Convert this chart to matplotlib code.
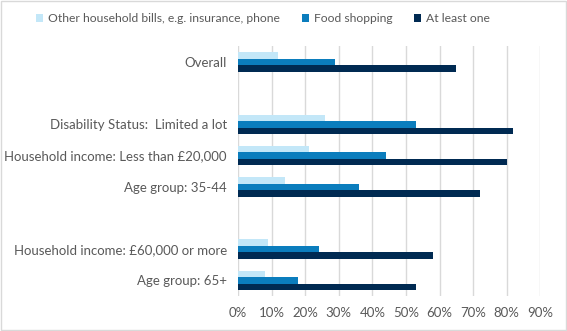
import numpy as np
import matplotlib
matplotlib.use("Agg")
import matplotlib.pyplot as plt
from matplotlib.patches import Patch, Rectangle
from matplotlib.ticker import PercentFormatter

plt.rcParams['font.family'] = ['Lato', 'DejaVu Sans']

# survey groups, top to bottom
categories = ['Overall',
              'Disability Status:  Limited a lot',
              'Household income: Less than £20,000',
              'Age group: 35-44',
              'Household income: £60,000 or more',
              'Age group: 65+']
series_names = ['Other household bills, e.g. insurance, phone',
                'Food shopping',
                'At least one']
other_bills = [12, 26, 21, 14, 9, 8]
food_shopping = [29, 53, 44, 36, 24, 18]
at_least_one = [65, 82, 80, 72, 58, 53]

colors = ['#C3E7F8', '#0B7DBD', '#002A52']
text_col = '#595959'

# rows, leaving blank rows between the blocks
rows = np.array([0, 2, 3, 4, 6, 7])
bar_h = 0.21

fig = plt.figure(figsize=(5.67, 3.31), dpi=100)
ax = fig.add_axes([238 / 567, 1 - 296 / 331, (540.3 - 238) / 567, (296 - 46.4) / 331])

for i, vals in enumerate([other_bills, food_shopping, at_least_one]):
    ax.barh(rows + (i - 1) * bar_h, vals, height=bar_h, color=colors[i],
            label=series_names[i], zorder=3)

ax.set_xlim(0, 90)
ax.set_ylim(7.5, -0.5)
ax.set_xticks(np.arange(0, 91, 10))
ax.xaxis.set_major_formatter(PercentFormatter(decimals=0))
ax.set_yticks(rows)
ax.set_yticklabels(categories)
ax.tick_params(axis='both', length=0, labelsize=9.5, labelcolor=text_col)
ax.tick_params(axis='x', pad=8)
ax.tick_params(axis='y', pad=8)
ax.grid(axis='x', color='#D9D9D9', linewidth=1, zorder=0)
for s in ax.spines.values():
    s.set_visible(False)

handles = [Patch(facecolor=c) for c in colors]
fig.legend(handles, series_names, loc='center', bbox_to_anchor=(263 / 567, 1 - 19 / 331),
           ncol=3, frameon=False, fontsize=8.7, labelcolor=text_col,
           handlelength=0.58, handleheight=0.58, handletextpad=0.42, columnspacing=1.8)

fig.patches.append(Rectangle((0.002, 0.003), 0.996, 0.994, transform=fig.transFigure,
                             fill=False, edgecolor='#D9D9D9', linewidth=1))

fig.savefig('out.png', dpi=100)
